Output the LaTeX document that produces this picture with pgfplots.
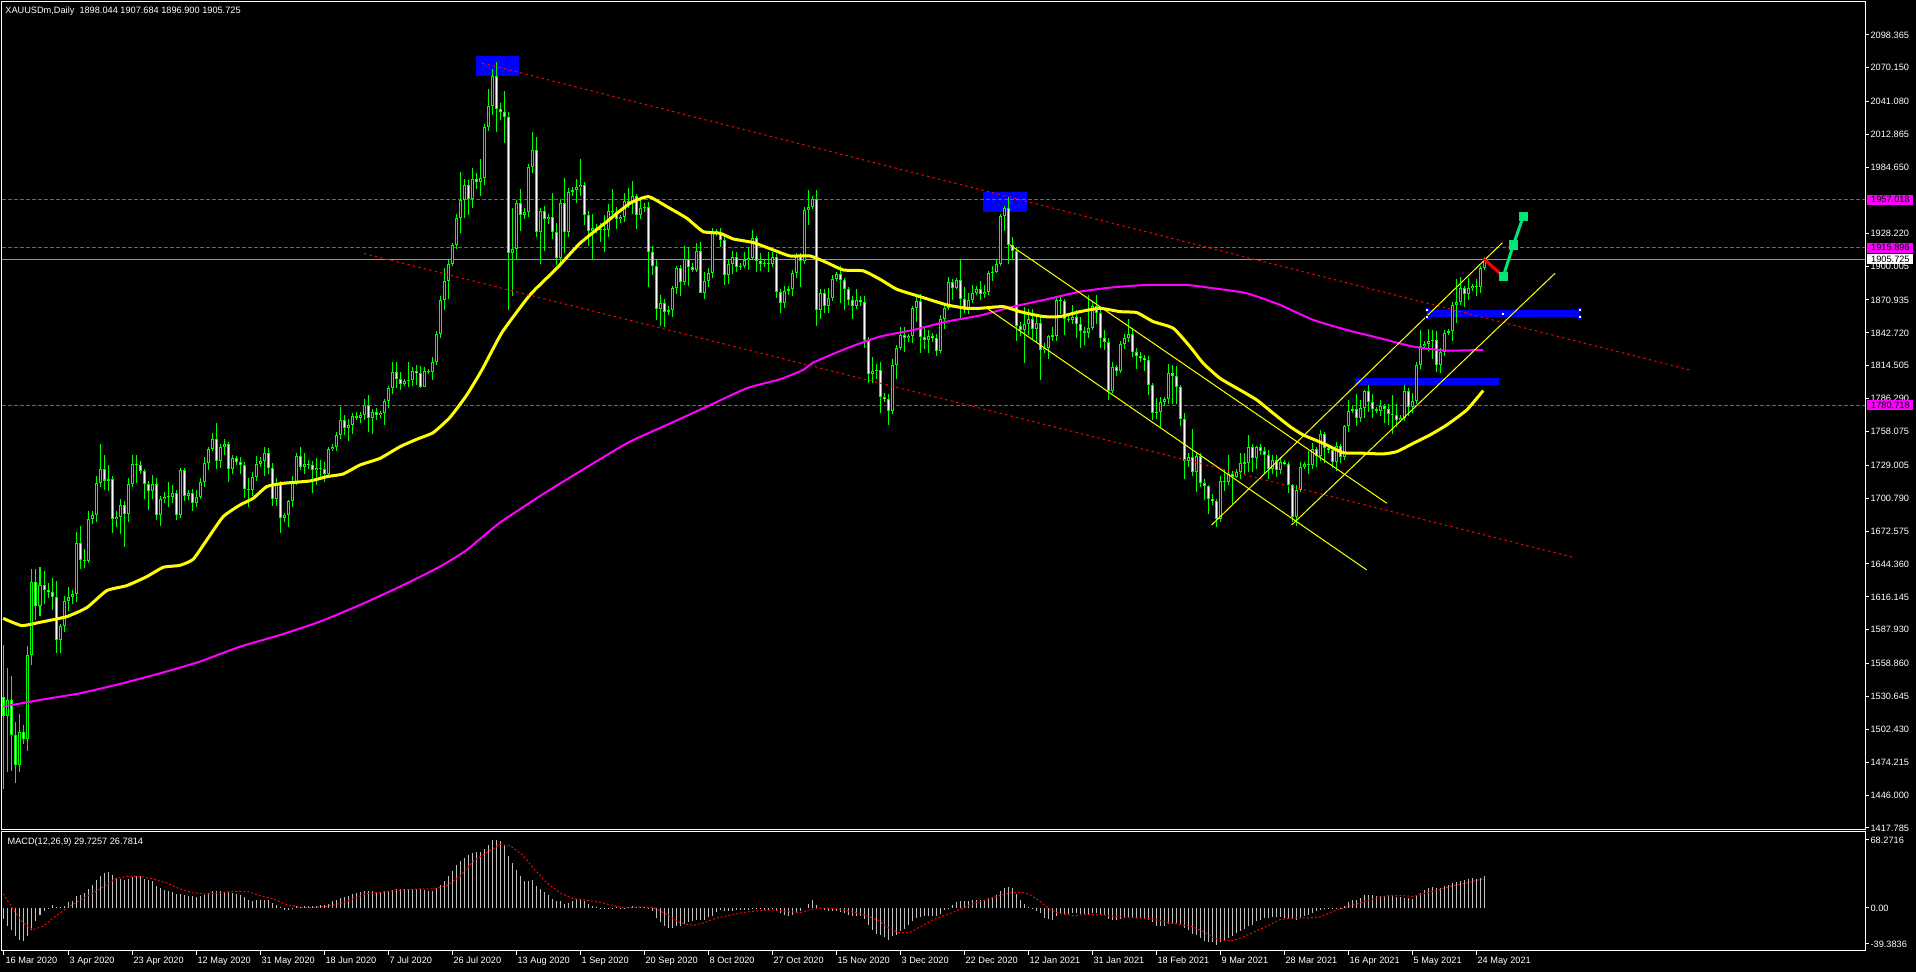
\documentclass[border=0pt]{standalone}
\usepackage{fontspec}
\setmainfont{Liberation Sans}
\usepackage{pgfplots}
\pgfplotsset{compat=1.18}
\usepackage{pgfplotstable}
\definecolor{cgreen}{RGB}{0,255,0}
\definecolor{mtmag}{RGB}{255,0,255}
\definecolor{mtyel}{RGB}{255,255,0}
\definecolor{mtblue}{RGB}{0,0,255}
\definecolor{mtred}{RGB}{255,0,0}
\definecolor{mtsilver}{RGB}{192,192,192}
\definecolor{mtgrey}{RGB}{150,150,150}
\definecolor{mtspring}{RGB}{0,230,118}
\newcommand\mtfont{\fontsize{4.6}{5.5}\selectfont}

\pgfplotstableread{
i o h l c m
0 1530 1575 1451 1514 -10.1
1 1514 1555 1466 1528 -16.9
2 1528 1548 1467 1498 -19.9
3 1498 1509 1456 1472 -26.1
4 1472 1516 1466 1500 -29.1
5 1500 1506 1490 1494 -30.7
6 1494 1574 1484 1566 -26.1
7 1566 1640 1558 1629 -19.9
8 1629 1640 1596 1608 -12.3
9 1608 1642 1600 1626 -6.1
10 1626 1638 1610 1622 -2.5
11 1622 1628 1615 1620 -0.5
12 1620 1632 1605 1616 3.1
13 1616 1630 1568 1579 0.9
14 1579 1593 1568 1591 0.9
15 1591 1617 1586 1613 2.1
16 1613 1625 1604 1616 5.2
17 1616 1622 1610 1619 6.1
18 1619 1672 1612 1662 10.7
19 1662 1677 1640 1648 12.3
20 1648 1657 1641 1647 13.8
21 1647 1690 1645 1683 17.5
22 1683 1690 1679 1686 21.5
23 1686 1720 1680 1714 26.1
24 1714 1747 1710 1726 29.8
25 1726 1738 1708 1716 32.2
26 1716 1729 1707 1717 33.4
27 1717 1720 1671 1683 30.4
28 1683 1690 1676 1685 27.3
29 1685 1700 1670 1695 26.7
30 1695 1698 1659 1687 26.1
31 1687 1718 1680 1713 27.0
32 1713 1738 1710 1730 28.2
33 1730 1738 1714 1729 29.1
34 1729 1733 1722 1724 29.1
35 1724 1726 1700 1713 26.7
36 1713 1716 1691 1707 26.1
37 1707 1721 1700 1713 24.5
38 1713 1718 1682 1686 19.9
39 1686 1703 1677 1700 18.4
40 1700 1706 1697 1702 16.9
41 1702 1715 1693 1702 15.3
42 1702 1712 1697 1705 14.4
43 1705 1708 1682 1686 13.2
44 1686 1727 1684 1725 13.2
45 1725 1727 1698 1703 12.3
46 1703 1708 1699 1705 11.3
47 1705 1709 1690 1697 10.7
48 1697 1708 1693 1702 9.8
49 1702 1718 1700 1715 10.7
50 1715 1736 1710 1731 12.3
51 1731 1745 1725 1743 13.8
52 1743 1757 1741 1752 15.6
53 1752 1765 1726 1733 15.6
54 1733 1747 1727 1745 15.6
55 1745 1752 1738 1747 14.7
56 1747 1749 1715 1726 14.7
57 1726 1738 1722 1735 13.8
58 1735 1737 1729 1732 13.2
59 1732 1736 1722 1729 12.0
60 1729 1732 1701 1709 9.8
61 1709 1718 1693 1708 7.4
62 1708 1723 1703 1719 6.7
63 1719 1737 1716 1730 7.4
64 1730 1736 1728 1733 7.7
65 1733 1745 1720 1740 7.4
66 1740 1744 1722 1727 7.7
67 1727 1731 1694 1700 4.6
68 1700 1718 1694 1714 3.1
69 1714 1716 1671 1684 0.9
70 1684 1688 1680 1686 -1.5
71 1686 1699 1676 1698 -2.1
72 1698 1720 1693 1715 -0.3
73 1715 1740 1712 1737 1.5
74 1737 1745 1725 1728 1.2
75 1728 1740 1722 1730 1.5
76 1730 1734 1726 1729 1.8
77 1729 1733 1705 1725 2.1
78 1725 1735 1712 1727 2.1
79 1727 1734 1718 1726 2.8
80 1726 1732 1715 1722 3.1
81 1722 1745 1720 1743 4.0
82 1743 1747 1741 1745 6.1
83 1745 1758 1741 1755 7.1
84 1755 1779 1752 1768 9.2
85 1768 1772 1755 1761 10.1
86 1761 1769 1750 1764 11.3
87 1764 1774 1756 1771 13.2
88 1771 1775 1768 1770 13.8
89 1770 1775 1765 1772 14.7
90 1772 1786 1768 1781 15.3
91 1781 1789 1758 1770 15.3
92 1770 1777 1756 1775 15.3
93 1775 1778 1768 1772 15.0
94 1772 1776 1770 1774 15.0
95 1774 1786 1764 1784 15.3
96 1784 1797 1778 1795 16.0
97 1795 1818 1790 1809 16.9
98 1809 1818 1795 1803 17.5
99 1803 1809 1794 1799 17.5
100 1799 1803 1797 1801 17.8
101 1801 1818 1796 1802 17.8
102 1802 1813 1797 1810 17.8
103 1810 1815 1798 1808 17.8
104 1808 1814 1795 1796 17.5
105 1796 1813 1796 1810 16.9
106 1810 1812 1807 1809 16.0
107 1809 1822 1802 1818 16.0
108 1818 1844 1815 1842 18.1
109 1842 1874 1838 1871 21.5
110 1871 1898 1862 1887 24.5
111 1887 1905 1872 1902 29.1
112 1902 1920 1900 1918 33.7
113 1918 1945 1915 1941 39.9
114 1941 1981 1928 1957 43.6
115 1957 1975 1941 1970 46.0
116 1970 1974 1944 1958 48.5
117 1958 1984 1950 1975 50.6
118 1975 1980 1966 1972 51.5
119 1972 1992 1960 1976 51.5
120 1976 2022 1970 2019 54.6
121 2019 2052 2016 2037 58.3
122 2037 2069 2030 2063 62.3
123 2063 2075 2015 2035 62.3
124 2035 2040 2025 2032 61.3
125 2032 2050 2006 2028 58.3
126 2028 2032 1862 1911 48.2
127 1911 1950 1874 1915 41.4
128 1915 1957 1905 1954 35.3
129 1954 1966 1930 1944 29.8
130 1944 1950 1940 1946 25.2
131 1946 1988 1942 1985 25.2
132 1985 2015 1980 2000 26.1
133 2000 2011 1925 1929 20.6
134 1929 1950 1902 1947 17.5
135 1947 1952 1913 1940 15.0
136 1940 1945 1936 1942 12.3
137 1942 1963 1923 1929 8.6
138 1929 1937 1901 1907 6.7
139 1907 1957 1900 1954 6.7
140 1954 1976 1911 1929 4.0
141 1929 1967 1925 1964 4.9
142 1964 1968 1960 1965 6.7
143 1965 1975 1954 1968 8.3
144 1968 1992 1960 1970 8.3
145 1970 1972 1935 1944 6.7
146 1944 1947 1917 1930 4.0
147 1930 1945 1906 1933 2.1
148 1933 1936 1928 1932 0.9
149 1932 1937 1921 1931 0.2
150 1931 1944 1912 1931 0.3
151 1931 1953 1925 1947 0.1
152 1947 1966 1940 1946 0.1
153 1946 1951 1932 1940 0.6
154 1940 1944 1937 1942 0.1
155 1942 1963 1938 1956 0.1
156 1956 1967 1950 1954 1.2
157 1954 1973 1945 1960 2.1
158 1960 1962 1932 1944 0.9
159 1944 1959 1940 1950 0.6
160 1950 1954 1946 1951 0.9
161 1951 1955 1882 1912 -0.3
162 1912 1917 1892 1900 -3.1
163 1900 1905 1854 1863 -9.2
164 1863 1875 1849 1868 -13.2
165 1868 1872 1848 1861 -16.9
166 1861 1866 1858 1862 -18.7
167 1862 1883 1856 1881 -18.7
168 1881 1900 1876 1898 -16.9
169 1898 1901 1874 1886 -16.9
170 1886 1917 1884 1906 -14.4
171 1906 1916 1883 1899 -13.2
172 1899 1903 1895 1897 -12.3
173 1897 1920 1895 1913 -10.7
174 1913 1921 1877 1877 -10.7
175 1877 1895 1872 1887 -10.7
176 1887 1898 1882 1894 -8.3
177 1894 1933 1890 1930 -7.1
178 1930 1932 1926 1928 -4.0
179 1928 1933 1916 1922 -2.1
180 1922 1926 1884 1892 -3.1
181 1892 1905 1885 1902 -3.1
182 1902 1913 1893 1908 -3.1
183 1908 1912 1895 1899 -2.1
184 1899 1903 1897 1900 -2.1
185 1900 1912 1898 1905 -1.5
186 1905 1916 1897 1907 -1.5
187 1907 1931 1905 1924 -0.3
188 1924 1926 1895 1904 -0.6
189 1904 1911 1896 1902 -0.9
190 1902 1906 1899 1903 -1.5
191 1903 1912 1895 1902 -1.5
192 1902 1912 1899 1908 -0.9
193 1908 1910 1873 1878 -3.1
194 1878 1880 1860 1868 -4.6
195 1868 1883 1864 1879 -6.1
196 1879 1883 1875 1880 -7.1
197 1880 1897 1874 1894 -6.1
198 1894 1911 1890 1909 -4.6
199 1909 1911 1882 1904 -3.1
200 1904 1951 1902 1948 0.0
201 1948 1965 1935 1951 4.0
202 1951 1960 1949 1958 7.7
203 1958 1965 1849 1862 3.1
204 1862 1880 1855 1877 0.0
205 1877 1880 1860 1866 -2.1
206 1866 1881 1860 1873 -3.1
207 1873 1892 1870 1889 -3.1
208 1889 1895 1887 1893 -3.1
209 1893 1900 1868 1888 -4.0
210 1888 1890 1862 1880 -4.6
211 1880 1882 1867 1871 -6.1
212 1871 1874 1855 1866 -7.1
213 1866 1880 1863 1871 -7.7
214 1871 1874 1866 1869 -7.1
215 1869 1874 1830 1837 -10.1
216 1837 1839 1800 1807 -15.3
217 1807 1822 1800 1810 -19.9
218 1810 1816 1803 1811 -23.6
219 1811 1818 1774 1788 -24.5
220 1788 1791 1783 1786 -27.0
221 1786 1790 1764 1776 -29.1
222 1776 1820 1773 1815 -25.5
223 1815 1832 1803 1830 -24.5
224 1830 1848 1828 1841 -21.5
225 1841 1848 1826 1838 -19.0
226 1838 1842 1835 1840 -15.3
227 1840 1866 1834 1864 -12.3
228 1864 1875 1852 1870 -9.2
229 1870 1876 1825 1839 -8.3
230 1839 1848 1829 1837 -7.7
231 1837 1845 1825 1840 -7.7
232 1840 1843 1835 1838 -7.1
233 1838 1842 1823 1827 -7.1
234 1827 1858 1825 1855 -5.2
235 1855 1868 1846 1864 -2.1
236 1864 1891 1862 1886 -0.3
237 1886 1889 1871 1881 2.8
238 1881 1890 1880 1888 5.2
239 1888 1906 1855 1872 6.1
240 1872 1882 1860 1862 6.1
241 1862 1877 1859 1871 6.1
242 1871 1884 1868 1877 7.1
243 1877 1883 1875 1880 7.7
244 1880 1887 1871 1876 7.7
245 1876 1884 1873 1878 7.7
246 1878 1896 1875 1894 9.2
247 1894 1900 1887 1895 9.8
248 1895 1906 1894 1902 12.3
249 1902 1945 1900 1943 16.0
250 1943 1952 1930 1950 18.4
251 1950 1959 1902 1918 19.3
252 1918 1925 1906 1913 18.4
253 1913 1916 1836 1849 13.2
254 1849 1852 1840 1845 7.7
255 1845 1865 1817 1850 4.0
256 1850 1863 1841 1855 0.9
257 1855 1863 1837 1846 -0.3
258 1846 1859 1834 1851 -2.5
259 1851 1856 1802 1828 -4.6
260 1828 1834 1825 1830 -9.2
261 1830 1841 1820 1840 -9.8
262 1840 1848 1836 1840 -10.7
263 1840 1874 1836 1871 -7.7
264 1871 1875 1859 1870 -5.2
265 1870 1872 1841 1855 -5.2
266 1855 1858 1852 1854 -5.2
267 1854 1867 1850 1856 -4.6
268 1856 1862 1838 1850 -4.6
269 1850 1856 1830 1844 -5.2
270 1844 1848 1832 1843 -5.2
271 1843 1875 1838 1847 -5.2
272 1847 1870 1845 1866 -4.6
273 1866 1875 1850 1860 -4.6
274 1860 1862 1830 1838 -5.2
275 1838 1845 1828 1835 -6.1
276 1835 1838 1785 1793 -10.1
277 1793 1818 1791 1813 -11.3
278 1813 1815 1806 1810 -10.7
279 1810 1836 1808 1833 -10.1
280 1833 1842 1829 1838 -9.2
281 1838 1855 1835 1842 -8.3
282 1842 1847 1822 1826 -9.2
283 1826 1830 1812 1823 -9.2
284 1823 1826 1818 1821 -9.2
285 1821 1824 1810 1819 -10.1
286 1819 1823 1789 1798 -10.7
287 1798 1800 1768 1774 -13.2
288 1774 1787 1769 1775 -16.3
289 1775 1788 1762 1783 -16.9
290 1783 1788 1780 1786 -16.9
291 1786 1816 1782 1808 -14.7
292 1808 1815 1782 1806 -13.8
293 1806 1814 1782 1796 -13.8
294 1796 1798 1763 1769 -15.3
295 1769 1774 1717 1733 -18.4
296 1733 1740 1728 1736 -20.6
297 1736 1760 1720 1723 -23.6
298 1723 1740 1706 1737 -24.5
299 1737 1740 1710 1714 -27.6
300 1714 1717 1699 1711 -30.7
301 1711 1712 1687 1700 -31.6
302 1700 1704 1695 1698 -31.6
303 1698 1700 1676 1683 -33.7
304 1683 1720 1680 1716 -31.6
305 1716 1726 1707 1715 -29.1
306 1715 1738 1712 1722 -27.6
307 1722 1724 1696 1719 -25.5
308 1719 1726 1718 1723 -23.0
309 1723 1740 1717 1731 -21.5
310 1731 1740 1721 1731 -19.3
311 1731 1755 1723 1745 -16.9
312 1745 1747 1723 1735 -15.3
313 1735 1746 1726 1745 -12.3
314 1745 1747 1738 1741 -10.7
315 1741 1745 1722 1738 -9.2
316 1738 1742 1717 1726 -9.2
317 1726 1738 1722 1734 -8.3
318 1734 1738 1719 1725 -8.3
319 1725 1736 1722 1732 -8.3
320 1732 1734 1729 1730 -9.2
321 1730 1732 1705 1712 -9.2
322 1712 1713 1680 1685 -10.1
323 1685 1712 1677 1708 -10.7
324 1708 1732 1706 1728 -9.2
325 1728 1732 1726 1730 -7.1
326 1730 1741 1722 1729 -6.1
327 1729 1748 1726 1743 -4.6
328 1743 1745 1728 1737 -3.1
329 1737 1759 1733 1756 -1.5
330 1756 1758 1731 1744 -0.6
331 1744 1746 1740 1742 0.3
332 1742 1746 1727 1732 0.3
333 1732 1749 1724 1746 0.3
334 1746 1747 1731 1736 0.3
335 1736 1764 1734 1763 2.1
336 1763 1785 1758 1776 5.2
337 1776 1780 1774 1777 7.1
338 1777 1790 1763 1770 7.7
339 1770 1785 1766 1778 9.2
340 1778 1794 1770 1793 11.7
341 1793 1798 1775 1783 12.3
342 1783 1790 1770 1777 12.3
343 1777 1779 1774 1776 11.3
344 1776 1785 1771 1780 11.3
345 1780 1782 1765 1777 11.3
346 1777 1782 1764 1773 11.3
347 1773 1789 1756 1772 11.3
348 1772 1782 1762 1768 9.8
349 1768 1772 1766 1770 9.8
350 1770 1798 1767 1793 9.2
351 1793 1795 1771 1779 9.2
352 1779 1791 1774 1784 8.6
353 1784 1818 1782 1815 10.7
354 1815 1845 1812 1831 13.8
355 1831 1836 1829 1833 16.9
356 1833 1846 1827 1836 18.4
357 1836 1845 1820 1837 19.3
358 1837 1844 1809 1815 18.4
359 1815 1830 1808 1826 18.4
360 1826 1845 1823 1843 19.9
361 1843 1846 1841 1844 20.9
362 1844 1869 1836 1867 23.0
363 1867 1889 1851 1869 23.9
364 1869 1891 1867 1881 25.2
365 1881 1883 1865 1876 25.5
366 1876 1890 1871 1881 26.7
367 1881 1885 1879 1883 27.6
368 1883 1889 1874 1882 26.7
369 1882 1900 1877 1898 27.6
370 1898.044 1907.684 1896.9 1905.725 29.7257
}\bars

\pgfplotstableread{
x p
-0.2 1597.7
4.4 1591.5
9 1594.3
15.7 1599.2
20.7 1606.9
25.7 1621.5
30.7 1625.8
35.7 1633.5
39.8 1641.5
44 1643.2
47.3 1648.4
50.7 1665
54.8 1685
59 1695
62.3 1700.7
65.7 1710.8
69.8 1713.6
76.5 1715.6
80.7 1719.3
84.8 1721.6
89 1729.3
94 1735
99 1745
103.2 1751.4
107.3 1757.1
111.5 1770.2
115.7 1789.4
119.5 1811
124.5 1843
131.5 1875.3
138.2 1898.1
144 1919.6
150.7 1938.2
156.5 1953.9
161.1 1959.6
165.7 1951.1
170.7 1941.1
174.8 1929.6
179 1928.2
182.3 1923.3
187.3 1920.2
192.3 1913.9
196.5 1908.7
201.5 1908.7
205.7 1903
209.8 1896.7
214.8 1895.9
219 1888.7
223.2 1880.1
229 1873.8
235.7 1866.7
240.7 1863.8
244 1863.8
249.8 1865.2
254 1860.9
259.8 1856.7
264 1856.7
269 1860.9
274 1863.8
279 1860.9
283.2 1860.1
287.3 1852.4
292.3 1846.7
296.5 1830.9
299.8 1816.6
304 1803.7
309 1793.7
313.2 1785.1
317.3 1773.7
321.5 1762.3
324.8 1755.1
329.8 1747.9
334.8 1739.9
339.8 1739.4
344.8 1738.8
348.2 1740.8
352.3 1747.9
356.5 1755.1
360.7 1763.7
365.7 1776.6
369.8 1793.2
}\maf

\pgfplotstableread{
x p
-0.2 1521.9
9 1527.7
19 1533.4
29 1541.4
39 1550.5
49 1560.6
59 1573.4
69 1583.4
79 1594.9
89 1609.2
99 1624.9
109 1642.1
115.7 1656.4
124 1679.9
136 1707
149.4 1735.1
156.5 1749.4
165.7 1763.7
175.7 1779.4
185.7 1795.2
194 1802.9
199.8 1810.9
202.3 1817.2
210.7 1829.5
219 1839.5
227.3 1845.2
235.7 1852.4
244 1857.6
252.3 1865.2
260.7 1871.5
269 1878.1
277.3 1881.8
285.7 1883.8
295.7 1883.8
302.3 1881
310.7 1876.7
319 1866.7
327.3 1853.8
335.7 1845.2
344 1838.1
352.3 1830.9
360.7 1827.5
369.8 1828.1
}\mas

\pgfplotstableread{
x s
-0.2 13.2
2.3 -1.5
4.8 -13.8
7.3 -19.9
9.8 -16.9
12.3 -9.2
15.7 0
19 7.1
22.3 13.8
25.7 21.5
28.2 27.6
30.7 29.1
34 29.1
37.3 26.7
40.7 23
44 17.5
47.3 13.8
50.7 12.9
54 13.8
57.3 15.3
60.7 15.3
64 11.3
67.3 8.3
70.7 3.1
74 0.6
77.3 0.3
80.7 1.5
84 4
87.3 8.6
90.7 13.2
94 14.4
97.3 15.6
100.7 16.9
104 17.5
107.3 17.5
110.7 20.6
114 29.1
117.3 42.9
120.7 51.2
124 58.3
126.5 57.4
129.8 48.2
132.3 36.8
135.7 23
139 13.8
142.3 8.6
145.7 7.1
149 5.2
152.3 2.1
155.7 0.3
159 0.9
162.3 0.6
165.7 -6.1
169 -13.8
172.3 -16
174.8 -13.8
178.2 -9.2
182.3 -6.1
185.7 -3.7
189.8 -2.1
193.2 -2.1
196.5 -3.4
199 -4.3
201.5 -1.5
204.8 0
208 -0.6
211.5 -3.1
214.8 -6.1
218.2 -10.7
221.5 -19.3
224 -23
226.5 -22.4
229 -17.5
232.3 -10.7
235.7 -6.1
239 -1.5
242.3 4
245.7 7.7
249 11.5
251.5 13.8
254 14.7
256.5 12.3
259 6.1
261.5 -1.5
264 -5.2
267.3 -7.1
270.7 -6.1
274 -6.1
277.3 -7.7
280.7 -8.6
284 -9.2
287.3 -10.1
290.7 -13.2
294 -15.3
297.3 -17.5
299.8 -21.5
302.3 -27.6
304.8 -30.1
307.3 -30.1
309.8 -26.7
312.3 -22.4
315.7 -16.9
319 -10.7
322.3 -9.2
325.7 -9.2
329 -8.3
332.3 -3.1
335.7 0.9
339 4.6
342.3 8.3
345.7 11.3
349 11.3
352.3 10.7
355.7 13.8
359 16.9
362.3 20.6
365.7 23
369 26.1
370 26.8
}\sig

% build the segment lists (wick, body, inner fills, MACD histogram) from the table
\def\wickpath{}\def\bodypath{}\def\bullpath{}\def\bearpath{}\def\macdpath{}
\pgfplotstablegetrowsof{\bars}\pgfmathtruncatemacro\lastrow{\pgfplotsretval-1}
\pgfplotsforeachungrouped \r in {0,...,\lastrow}{%
  \pgfplotstablegetelem{\r}{i}\of\bars\let\vi\pgfplotsretval
  \pgfplotstablegetelem{\r}{o}\of\bars\let\vo\pgfplotsretval
  \pgfplotstablegetelem{\r}{h}\of\bars\let\vh\pgfplotsretval
  \pgfplotstablegetelem{\r}{l}\of\bars\let\vl\pgfplotsretval
  \pgfplotstablegetelem{\r}{c}\of\bars\let\vc\pgfplotsretval
  \pgfplotstablegetelem{\r}{m}\of\bars\let\vm\pgfplotsretval
  \xdef\wickpath{\wickpath(\vi,\vl)(\vi,\vh)(\vi,nan)}%
  \pgfmathsetmacro\bmid{(\vo+\vc)/2}%
  \pgfmathsetmacro\bhalf{max(abs(\vc-\vo)/2,0.45)}%
  \pgfmathsetmacro\blo{\bmid-\bhalf}%
  \pgfmathsetmacro\bhi{\bmid+\bhalf}%
  \xdef\bodypath{\bodypath(\vi,\blo)(\vi,\bhi)(\vi,nan)}%
  \pgfmathtruncatemacro\isbull{(\vc-\vo)>1.8}%
  \pgfmathtruncatemacro\isbear{(\vo-\vc)>1.8}%
  \ifnum\isbull=1 \pgfmathsetmacro\ia{\vo+0.86}\pgfmathsetmacro\ib{\vc-0.86}\xdef\bullpath{\bullpath(\vi,\ia)(\vi,\ib)(\vi,nan)}\fi
  \ifnum\isbear=1 \pgfmathsetmacro\ia{\vc+0.86}\pgfmathsetmacro\ib{\vo-0.86}\xdef\bearpath{\bearpath(\vi,\ia)(\vi,\ib)(\vi,nan)}\fi
  \xdef\macdpath{\macdpath(\vi,0)(\vi,\vm)(\vi,nan)}%
}

\pgfplotsset{
  mtaxis/.style={
    scale only axis, width=931.5pt, anchor=south west,
    xmin=-0.5, xmax=465.25,
    axis line style={draw=white, line width=0.5pt},
    tick style={draw=white, line width=0.5pt},
    tick align=outside, major tick length=2pt,
    ticklabel style={font=\mtfont, text=white},
  },
}

\begin{document}
\begin{tikzpicture}
\fill[black] (0,0) rectangle (958pt,486pt);
\useasboundingbox (0,0) rectangle (958pt,486pt);

% ---------------- main price panel ----------------
\begin{axis}[mtaxis,
  at={(1pt,71pt)}, height=414pt,
  ymin=1416.07, ymax=2126.67,
  xtick=\empty,
  ytick pos=right, yticklabel pos=right,
  ytick={1417.785,1446,1474.215,1502.43,1530.645,1558.86,1587.93,1616.145,1644.36,1672.575,1700.79,1729.005,1758.075,1786.29,1814.505,1842.72,1870.935,1900.005,1928.22,1984.65,2012.865,2041.08,2070.15,2098.365},
  yticklabels={1417.785,1446.000,1474.215,1502.430,1530.645,1558.860,1587.930,1616.145,1644.360,1672.575,1700.790,1729.005,1758.075,1786.290,1814.505,1842.720,1870.935,1900.005,1928.220,1984.650,2012.865,2041.080,2070.150,2098.365},
  yticklabel style={anchor=west, inner sep=0.6pt},
  clip=false,
]
% background rectangles
\addplot[fill=mtblue, draw=none] coordinates {(118,2063.2) (128.75,2063.2) (128.75,2080.3) (118,2080.3)} -- cycle;
\addplot[fill=mtblue, draw=none] coordinates {(244.75,1946.1) (255.75,1946.1) (255.75,1963.6) (244.75,1963.6)} -- cycle;
\addplot[fill=mtblue, draw=none] coordinates {(355.75,1856.3) (394,1856.3) (394,1862.3) (355.75,1862.3)} -- cycle;
\addplot[fill=mtblue, draw=none] coordinates {(337.75,1798) (373.75,1798) (373.75,1804) (337.75,1804)} -- cycle;
% horizontal levels
\addplot[mtmag, line width=0.5pt, dash pattern=on 2pt off 1pt] coordinates {(-0.5,1957.018) (465.25,1957.018)};
\addplot[mtmag, line width=0.5pt, dash pattern=on 2pt off 1pt] coordinates {(-0.5,1915.896) (465.25,1915.896)};
\addplot[mtmag, line width=0.5pt, dash pattern=on 2pt off 1pt] coordinates {(-0.5,1780.718) (465.25,1780.718)};
\addplot[mtgrey, line width=0.5pt] coordinates {(-0.5,1905.725) (465.25,1905.725)};
% candles: wicks, bodies, hollow bull / white bear interiors
\edef\tmp{\noexpand\addplot[cgreen, line width=0.5pt, unbounded coords=jump, forget plot] coordinates {\wickpath};}\tmp
\edef\tmp{\noexpand\addplot[cgreen, line width=1.5pt, unbounded coords=jump, forget plot] coordinates {\bodypath};}\tmp
\edef\tmp{\noexpand\addplot[black, line width=0.5pt, unbounded coords=jump, forget plot] coordinates {\bullpath};}\tmp
\edef\tmp{\noexpand\addplot[white, line width=0.5pt, unbounded coords=jump, forget plot] coordinates {\bearpath};}\tmp
% moving averages
\addplot[mtmag, line width=1pt, smooth, tension=0.3] table[x=x, y=p] {\mas};
\addplot[mtyel, line width=1.5pt, smooth, tension=0.3] table[x=x, y=p] {\maf};
% red dotted trend lines
\addplot[mtred, line width=0.5pt, dash pattern=on 1.2pt off 1.6pt] coordinates {(119.5,2074.3) (422,1810.4)};
\addplot[mtred, line width=0.5pt, dash pattern=on 1.2pt off 1.6pt] coordinates {(90,1910.8) (392,1650.4)};
% yellow channel lines
\addplot[mtyel, line width=0.5pt] coordinates {(251.5,1918.1) (345.7,1696.5)};
\addplot[mtyel, line width=0.5pt] coordinates {(246,1863.2) (340.7,1639.2)};
\addplot[mtyel, line width=0.5pt] coordinates {(301.9,1677.8) (374.6,1920.1)};
\addplot[mtyel, line width=0.5pt] coordinates {(321.9,1677.8) (387.75,1893.8)};
% selection handles of the upper blue bar
\addplot[only marks, mark=square*, mark size=0.85pt, mark options={fill=white, draw=mtblue, line width=0.3pt}] coordinates {(355.75,1862.3) (355.75,1856.3) (374.75,1859.3) (394,1862.3) (394,1856.3)};
% projection arrows
\addplot[mtred, line width=1.5pt] coordinates {(369.8,1906.7) (374.4,1892.4)};
\addplot[mtspring, line width=1.5pt, mark=square*, mark size=1.6pt, mark options={fill=mtspring, draw=mtspring}] coordinates {(374.8,1890.9) (377.3,1918.1) (379.8,1942.4)};
\end{axis}

% ---------------- MACD panel ----------------
\begin{axis}[mtaxis,
  at={(1pt,10.5pt)}, height=59.5pt,
  ymin=-39.6, ymax=69.9,
  xtick pos=bottom, ytick pos=right, yticklabel pos=right,
  xtick={0,16,...,368},
  xticklabels={16 Mar 2020,3 Apr 2020,23 Apr 2020,12 May 2020,31 May 2020,18 Jun 2020,7 Jul 2020,26 Jul 2020,13 Aug 2020,1 Sep 2020,20 Sep 2020,8 Oct 2020,27 Oct 2020,15 Nov 2020,3 Dec 2020,22 Dec 2020,12 Jan 2021,31 Jan 2021,18 Feb 2021,9 Mar 2021,28 Mar 2021,16 Apr 2021,5 May 2021,24 May 2021},
  xticklabel style={anchor=north west, inner sep=0pt, xshift=0.6pt, yshift=-0.8pt},
  ytick={-33.1,0,62.6},
  yticklabels={-39.3836,0.00,68.2716},
  yticklabel style={anchor=west, inner sep=0.6pt},
  clip=false,
]
\edef\tmp{\noexpand\addplot[mtsilver, line width=0.5pt, unbounded coords=jump] coordinates {\macdpath};}\tmp
\addplot[mtred, line width=0.5pt, dash pattern=on 1pt off 1pt] table[x=x, y=s] {\sig};
\end{axis}

% ---------------- level labels on the price scale ----------------
\begin{axis}[mtaxis, at={(1pt,71pt)}, height=414pt, ymin=1416.07, ymax=2126.67, hide axis, clip=false]
\addplot[draw=none, forget plot] coordinates {(0,1900)};
\node[fill=mtmag, text=black, font=\mtfont, anchor=west, inner sep=0pt, minimum width=23pt, minimum height=5pt, xshift=1pt] at (axis cs:465.25,1957.018) {1957.018};
\node[fill=mtmag, text=black, font=\mtfont, anchor=west, inner sep=0pt, minimum width=23pt, minimum height=5pt, xshift=1pt] at (axis cs:465.25,1915.896) {1915.896};
\node[fill=white, text=black, font=\mtfont, anchor=west, inner sep=0pt, minimum width=23pt, minimum height=5pt, xshift=1pt] at (axis cs:465.25,1905.725) {1905.725};
\node[fill=mtmag, text=black, font=\mtfont, anchor=west, inner sep=0pt, minimum width=23pt, minimum height=5pt, xshift=1pt] at (axis cs:465.25,1780.718) {1780.718};
\end{axis}

\node[anchor=west, inner sep=0pt, text=white, font=\mtfont] at (2.5pt,480.5pt) {XAUUSDm,Daily\ \ 1898.044 1907.684 1896.900 1905.725};
\node[anchor=west, inner sep=0pt, text=white, font=\mtfont] at (3.6pt,65.1pt) {MACD(12,26,9) 29.7257 26.7814};
\end{tikzpicture}
\end{document}
